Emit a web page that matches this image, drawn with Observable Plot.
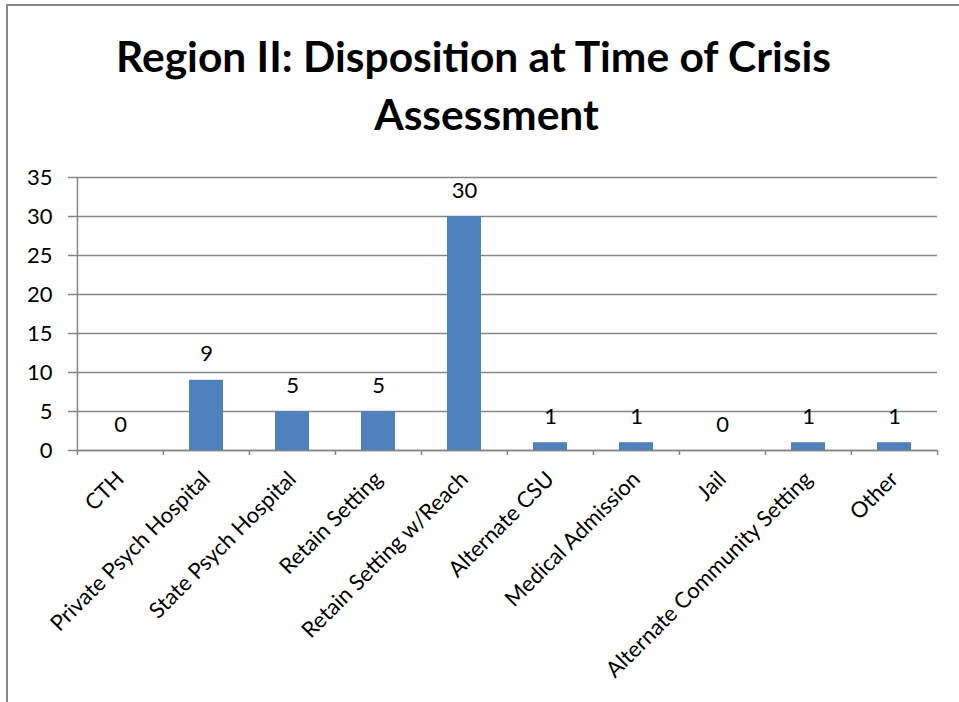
<!DOCTYPE html>
<html><head><meta charset="utf-8">
<script src="https://cdn.jsdelivr.net/npm/d3@7"></script>
<script src="https://cdn.jsdelivr.net/npm/@observablehq/plot@0.6"></script>
<style>
body{margin:0;background:#fff;}
#wrap{position:relative;width:959px;height:702px;overflow:hidden;font-family:Lato,sans-serif;background:#fff;}
#border{position:absolute;left:6px;top:4px;width:990px;height:740px;border-left:2px solid #888;border-top:2px solid #888;z-index:2;pointer-events:none;}
#title{position:absolute;left:0;top:27px;width:959px;text-align:center;font-weight:bold;font-size:42.5px;line-height:58px;color:#000;}
#title span{display:inline-block;}
#chart{position:absolute;left:0;top:160px;}
#chart svg{background:transparent !important;}
</style></head><body>
<div id="wrap"><div id="border"></div><div id="title"></div><div id="chart"></div></div>
<script>
const titleLines = ["Region II: Disposition at Time of Crisis", "Assessment"];
const categories = ["CTH", "Private Psych Hospital", "State Psych Hospital", "Retain Setting", "Retain Setting w/Reach", "Alternate CSU", "Medical Admission", "Jail", "Alternate Community Setting", "Other"];
const values = [0, 9, 5, 5, 30, 1, 1, 0, 1, 1];
const yTicks = [0, 5, 10, 15, 20, 25, 30, 35];

const titleShift = [-6, 7];
document.getElementById("title").innerHTML = titleLines
  .map((t, i) => `<span style="position:relative;left:${titleShift[i]}px">${t}</span>`).join("<br>");

const data = categories.map((c, i) => ({category: c, value: values[i]}));

const W = 959, H = 542, mt = 17, mb = 252, ml = 76, mr = 22;
const bw = (W - ml - mr) / categories.length;
const yMax = yTicks[yTicks.length - 1];
const tickUnits = yMax * 5 / (H - mt - mb);
const gray = "#868686";

const chart = Plot.plot({
  width: W, height: H,
  marginTop: mt, marginBottom: mb, marginLeft: ml, marginRight: mr,
  style: {fontFamily: "Lato, sans-serif", fontSize: "22px", color: "#000", background: "transparent"},
  x: {type: "band", domain: categories, padding: 0},
  y: {domain: [0, yMax]},
  marks: [
    Plot.gridY(yTicks, {stroke: gray, strokeOpacity: 1, strokeWidth: 1.5}),
    Plot.axisY(yTicks, {tickSize: 8, tickPadding: 16, stroke: gray, strokeOpacity: 1, strokeWidth: 1.5, fontSize: 22, label: null}),
    Plot.ruleX([categories[0]], {x: d => d, dx: -bw / 2, y1: 0, y2: yMax, stroke: gray, strokeWidth: 1.5}),
    Plot.ruleY([0], {stroke: gray, strokeWidth: 1.5}),
    Plot.ruleX(categories, {x: d => d, dx: -bw / 2, y1: 0, y2: -tickUnits, stroke: gray, strokeWidth: 1.5}),
    Plot.ruleX([categories[categories.length - 1]], {x: d => d, dx: bw / 2, y1: 0, y2: -tickUnits, stroke: gray, strokeWidth: 1.5}),
    Plot.barY(data, {x: "category", y: "value", fill: "#4F81BD", insetLeft: 26, insetRight: 26}),
    Plot.text(data, {x: "category", y: "value", text: d => String(d.value), dy: -26, fontSize: 22, fill: "#000"}),
    Plot.axisX({tickSize: 0, tickRotate: -45, tickPadding: 25, dx: 0, fontSize: 22, label: null})
  ]
});
document.getElementById("chart").appendChild(chart);
</script>
</body></html>
